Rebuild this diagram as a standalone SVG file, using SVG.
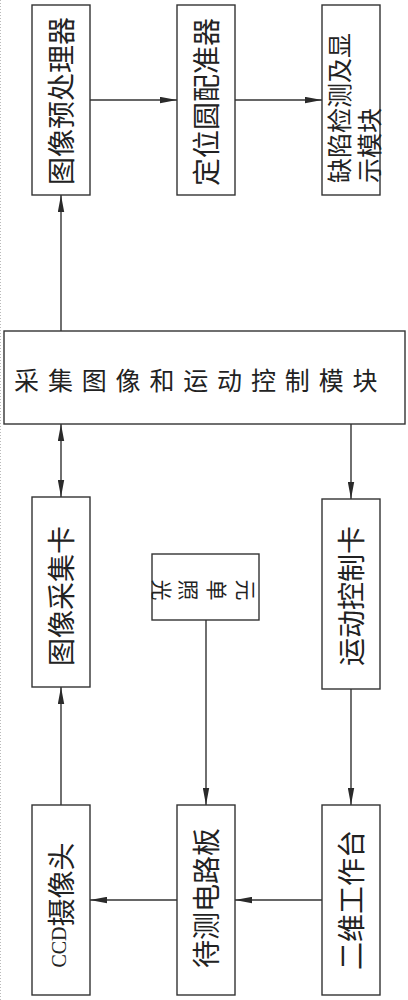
<svg xmlns="http://www.w3.org/2000/svg" width="408" height="1000" viewBox="0 0 408 1000">
<style>
.box{fill:#fff;stroke:#333;stroke-width:1.4}
.t{font-family:"Liberation Serif","Noto Sans CJK SC",serif;fill:#222;font-size:28px}
.t25{font-size:25px}
.t21{font-size:21px}
.c{stroke:#333;stroke-width:1.4;fill:none}
</style>
<defs>
<marker id="ah" markerUnits="userSpaceOnUse" markerWidth="17" markerHeight="7" refX="16" refY="3" orient="auto-start-reverse" viewBox="0 0 16 6">
<path d="M0,0 L16,3 L0,6 z" fill="#2a2a2a"/>
</marker>
</defs>
<rect width="408" height="1000" fill="#fff"/>
<line x1="0.5" y1="0" x2="0.5" y2="1000" stroke="#bbb" stroke-width="1" stroke-dasharray="1 2"/>

<g id="connectors">
<line class="c" x1="90" y1="100" x2="177" y2="100" marker-end="url(#ah)"/>
<line class="c" x1="235" y1="100" x2="322" y2="100" marker-end="url(#ah)"/>
<line class="c" x1="61" y1="331" x2="61" y2="195" marker-end="url(#ah)"/>
<line class="c" x1="61" y1="424" x2="61" y2="497" marker-start="url(#ah)" marker-end="url(#ah)"/>
<line class="c" x1="351" y1="424" x2="351" y2="499" marker-end="url(#ah)"/>
<line class="c" x1="61" y1="805" x2="61" y2="687" marker-end="url(#ah)"/>
<line class="c" x1="206" y1="620" x2="206" y2="805" marker-end="url(#ah)"/>
<line class="c" x1="351" y1="689" x2="351" y2="805" marker-end="url(#ah)"/>
<line class="c" x1="322" y1="900" x2="235" y2="900" marker-end="url(#ah)"/>
<line class="c" x1="177" y1="900" x2="90" y2="900" marker-end="url(#ah)"/>
</g>

<g id="n1">
<rect class="box" x="32" y="5" width="58" height="190"/>
<text class="t" x="61" y="111.6" text-anchor="middle" transform="rotate(-90 61 101)">图像预处理器</text>
</g>
<g id="n2">
<rect class="box" x="177" y="5" width="58" height="190"/>
<text class="t" x="206" y="112.6" text-anchor="middle" transform="rotate(-90 206 102)">定位圆配准器</text>
</g>
<g id="n3">
<rect class="box" x="322" y="5" width="58" height="190"/>
<text class="t t25" x="339" y="192.5" transform="rotate(-90 339 183)">缺陷检测及显</text>
<text class="t t25" x="369" y="192.5" transform="rotate(-90 369 183)">示模块</text>
</g>
<g id="n4">
<rect class="box" x="4" y="331" width="401" height="93"/>
<text class="t t25" y="389.5" text-anchor="middle" x="26.5 60.4 94.2 128.1 161.9 195.8 229.6 263.5 297.3 331.2 365">采集图像和运动控制模块</text>
</g>
<g id="n5">
<rect class="box" x="32" y="497" width="58" height="190"/>
<text class="t" x="61" y="606.6" text-anchor="middle" transform="rotate(-90 61 596)">图像采集卡</text>
</g>
<g id="n6">
<rect class="box" x="152" y="554" width="107" height="66"/>
<text class="t t21" y="579.5" x="153.5 181 209 238" rotate="90">光照单元</text>
</g>
<g id="n7">
<rect class="box" x="322" y="499" width="58" height="190"/>
<text class="t" x="351" y="606.6" text-anchor="middle" transform="rotate(-90 351 596)">运动控制卡</text>
</g>
<g id="n8">
<rect class="box" x="32" y="805" width="58" height="190"/>
<text class="t" x="61" y="915.6" text-anchor="middle" transform="rotate(-90 61 905)"><tspan font-size="20" baseline-shift="6">CCD</tspan>摄像头</text>
</g>
<g id="n9">
<rect class="box" x="177" y="805" width="58" height="190"/>
<text class="t" x="206" y="908.6" text-anchor="middle" transform="rotate(-90 206 898)">待测电路板</text>
</g>
<g id="n10">
<rect class="box" x="322" y="805" width="58" height="190"/>
<text class="t" x="351" y="910.6" text-anchor="middle" transform="rotate(-90 351 900)">二维工作台</text>
</g>
</svg>
